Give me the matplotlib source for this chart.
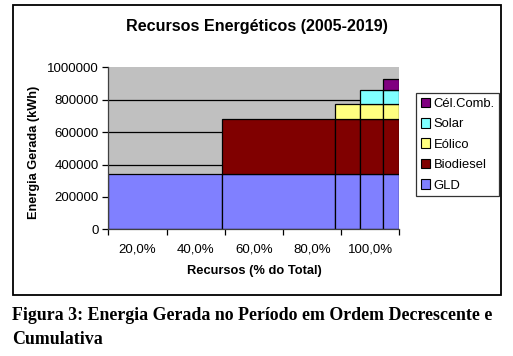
import matplotlib
matplotlib.use("Agg")
import matplotlib.pyplot as plt
from matplotlib.patches import Rectangle, Patch
from matplotlib.ticker import FixedLocator, NullFormatter

# data
recursos = ["GLD", "Biodiesel", "Eólico", "Solar", "Cél.Comb."]
energia = [343000, 336000, 96000, 87000, 68000]          # kWh per resource
cumul_pct = [39.2, 78.0, 86.4, 94.3, 100.0]              # cumulative % of total (right edge of each column)
cores = ["#8080FF", "#800000", "#FFFF80", "#80FFFF", "#800080"]
x_labels = ["20,0%", "40,0%", "60,0%", "80,0%", "100,0%"]
y_ticks = [0, 200000, 400000, 600000, 800000, 1000000]

W, H = 513, 356
fig = plt.figure(figsize=(W / 100, H / 100), dpi=100)
fig.patch.set_facecolor("white")

# chart frame
fig.patches.append(Rectangle((13 / W, 1 - 295 / H), (501 - 13) / W, (295 - 5) / H,
                             transform=fig.transFigure, fill=False,
                             edgecolor="black", linewidth=1.3))

ax = fig.add_axes([108.3 / W, 1 - 229.3 / H, (399.3 - 108.3) / W, (229.3 - 67.3) / H])
ax.set_facecolor("#C0C0C0")

lefts = [0.0] + cumul_pct[:-1]
widths = [r - l for l, r in zip(lefts, cumul_pct)]

# column i holds resources 0..i stacked
for j, (nome, cor) in enumerate(zip(recursos, cores)):
    base = sum(energia[:j])
    xs = lefts[j:]
    ws = widths[j:]
    ax.bar(xs, [energia[j]] * len(xs), width=ws, bottom=base, align="edge",
           color=cor, edgecolor="black", linewidth=0.9, zorder=3)

ax.set_xlim(0, 100)
ax.set_ylim(0, 1000000)
ax.set_yticks(y_ticks)
ax.set_yticklabels([str(v) for v in y_ticks])
for v in y_ticks[1:-1]:
    ax.axhline(v, color="black", linewidth=0.9, zorder=1)

ax.xaxis.set_major_locator(FixedLocator([0, 20, 40, 60, 80, 100]))
ax.xaxis.set_major_formatter(NullFormatter())
ax.xaxis.set_minor_locator(FixedLocator([10, 30, 50, 70, 90]))
ax.set_xticklabels(x_labels, minor=True)
ax.tick_params(axis="x", which="minor", length=0, pad=10, labelsize=9.5)
ax.tick_params(axis="x", which="major", length=4, width=0.9, direction="out")
ax.tick_params(axis="y", length=4, width=0.9, labelsize=9.5, pad=3)

for s in ["top", "right"]:
    ax.spines[s].set_visible(False)
for s in ["left", "bottom"]:
    ax.spines[s].set_color("#404040")
    ax.spines[s].set_linewidth(0.9)
    ax.spines[s].set_zorder(4)

for lbl in ax.get_xticklabels(minor=True) + ax.get_yticklabels():
    lbl.set_family("Liberation Sans")

fig.text(257 / W, 1 - 27 / H, "Recursos Energéticos (2005-2019)", ha="center", va="center",
         fontsize=11.6, fontweight="bold", family="Liberation Sans")
fig.text(254 / W, 1 - 271 / H, "Recursos (% do Total)", ha="center", va="center",
         fontsize=9.3, fontweight="bold", family="Liberation Sans")
fig.text(34 / W, 1 - 152 / H, "Energia Gerada (kWh)", ha="center", va="center",
         rotation=90, fontsize=9.2, fontweight="bold", family="Liberation Sans")

handles = [Patch(facecolor=c, edgecolor="black", linewidth=0.8) for c in cores][::-1]
leg = fig.legend(handles, recursos[::-1], loc="upper left",
                 bbox_to_anchor=(416 / W, 1 - 93 / H), frameon=True, fancybox=False,
                 edgecolor="black", handlelength=0.75, handleheight=0.75,
                 handletextpad=0.25, labelspacing=0.62, borderpad=0.35,
                 borderaxespad=0.0,
                 prop={"family": "Liberation Sans", "size": 9.4})
leg.get_frame().set_linewidth(0.9)

fig.text(12 / W, 1 - 315 / H, "Figura 3: Energia Gerada no Período em Ordem Decrescente e",
         ha="left", va="center", fontsize=12.9, fontweight="bold", family="Liberation Serif")
fig.text(12 / W, 1 - 340 / H, "Cumulativa",
         ha="left", va="center", fontsize=12.9, fontweight="bold", family="Liberation Serif")

fig.savefig("out.png", dpi=100)
